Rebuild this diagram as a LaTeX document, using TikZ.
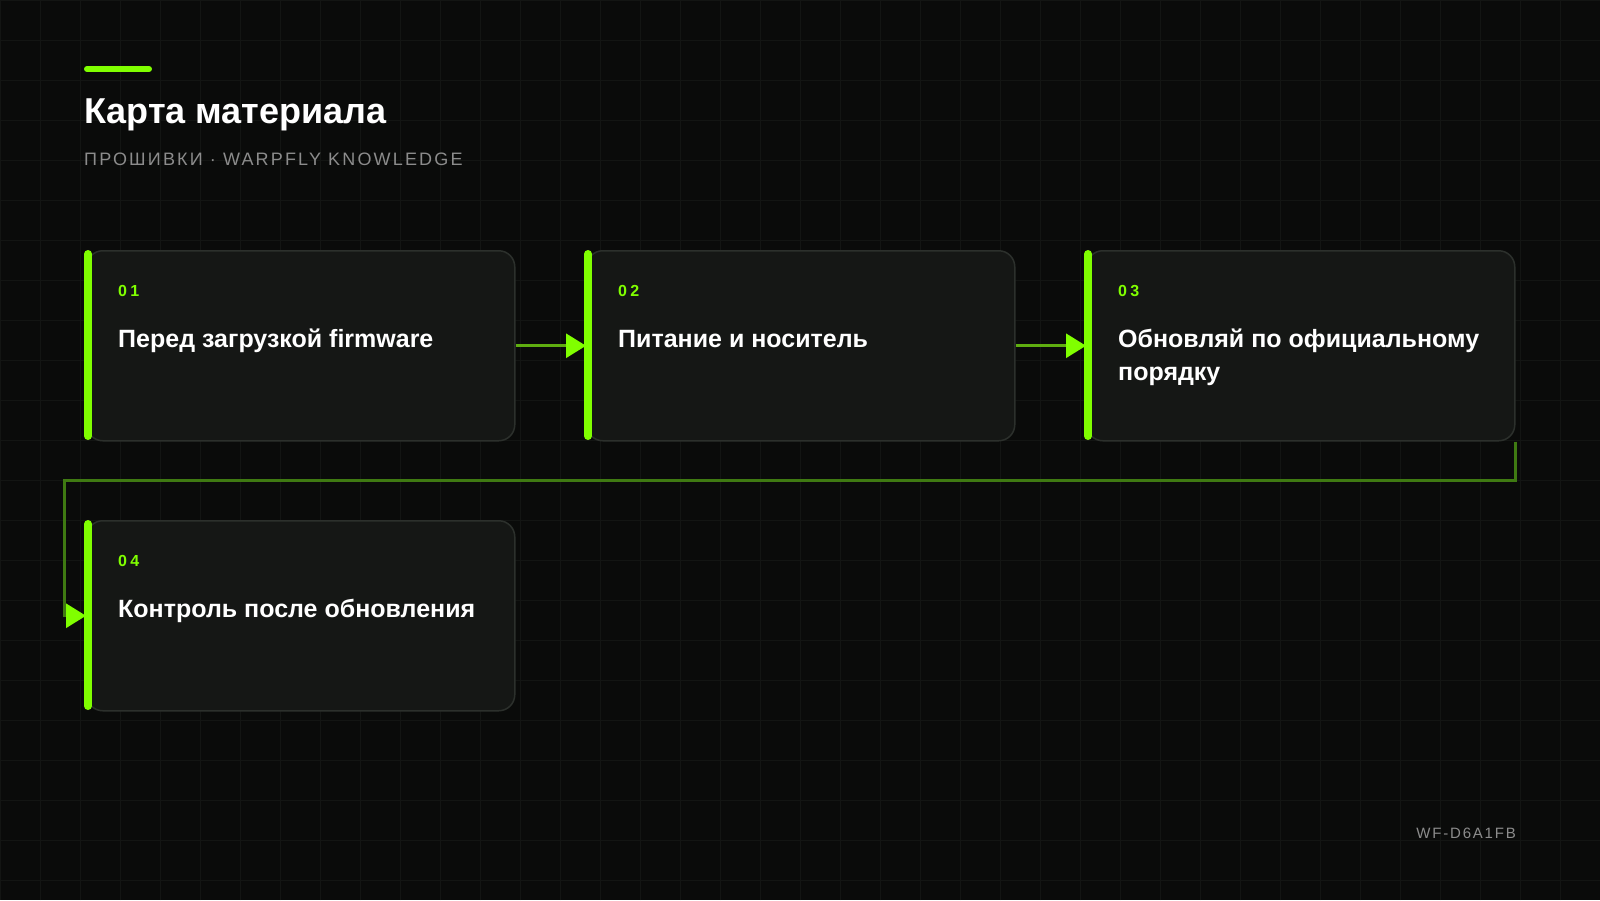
\documentclass[tikz,border=0pt]{standalone}
\usepackage{fontspec}
\setmainfont{Liberation Sans}
\usetikzlibrary{arrows.meta}
\definecolor{bgcol}{HTML}{0A0B0A}
\definecolor{gridcol}{HTML}{131513}
\definecolor{cardfill}{HTML}{151715}
\definecolor{cardline}{HTML}{2C302C}
\definecolor{lime}{HTML}{80FF00}
\definecolor{linkcol}{HTML}{5FAE10}
\definecolor{elbowcol}{HTML}{3F7A12}
\definecolor{greytext}{HTML}{8C8C8C}

\begin{document}
\begin{tikzpicture}[x=1pt,y=-1pt,
		card/.style={draw=cardline,fill=cardfill,line width=1.5pt,rounded corners=16pt,minimum width=428pt,minimum height=190pt,anchor=north west,inner sep=0pt},
		bar/.style={draw=lime,line width=8pt,line cap=round},
		num/.style={anchor=base west,inner sep=0pt,text=lime,font={\fontsize{16}{16}\selectfont\bfseries\addfontfeature{LetterSpace=20}}},
		head/.style={anchor=base west,inner sep=0pt,text=white,align=left,font={\fontsize{25}{33}\selectfont\bfseries}},
		link/.style={draw=linkcol,line width=3pt,-{Triangle[length=20pt,width=24pt,color=lime]}},
		elbow/.style={draw=elbowcol,line width=3pt,-{Triangle[length=20pt,width=24pt,color=lime]}}]
				\useasboundingbox (0,0) rectangle (1600,900);
				\fill[bgcol] (0,0) rectangle (1600,900);
				\draw[step=40pt,gridcol,line width=1pt] (0,900) grid (1600,0);
				\draw[lime,line width=6pt,line cap=round] (87,69) -- (149,69);
				\node[anchor=base west,inner sep=0pt,text=white,font={\fontsize{36}{36}\selectfont\bfseries}] (title) at (84,123) {Карта материала};
				\node[anchor=base west,inner sep=0pt,text=greytext,font={\fontsize{18}{18}\selectfont\addfontfeature{LetterSpace=12}}] (sub) at (84,165) {ПРОШИВКИ · WARPFLY KNOWLEDGE};
				\node[card] (b1) at (86,250) {};
				\node[card] (b2) at (586,250) {};
				\node[card] (b3) at (1086,250) {};
				\node[card] (b4) at (86,520) {};
				\coordinate (k1) at (64,480);
				\draw[link] (b1.east) -- (b2.west);
				\draw[link] (b2.east) -- (b3.west);
				\draw[elbow] (b3.south east) |- (k1) |- (b4.west);
				\draw[bar] (88,254) -- (88,436);
				\draw[bar] (588,254) -- (588,436);
				\draw[bar] (1088,254) -- (1088,436);
				\draw[bar] (88,524) -- (88,706);
				\node[num] (n1) at (118,296) {01};
				\node[num] (n2) at (618,296) {02};
				\node[num] (n3) at (1118,296) {03};
				\node[num] (n4) at (118,566) {04};
				\node[head] (t1) at (118,347) {Перед загрузкой firmware};
				\node[head] (t2) at (618,347) {Питание и носитель};
				\node[head] (t3) at (1118,380) {Обновляй по официальному\\порядку};
				\node[head] (t4) at (118,617) {Контроль после обновления};
				\node[anchor=base east,inner sep=0pt,text=greytext,font={\fontsize{15}{15}\selectfont\addfontfeature{LetterSpace=12}}] (code) at (1516,838) {WF-D6A1FB};
			\end{tikzpicture}
\end{document}
